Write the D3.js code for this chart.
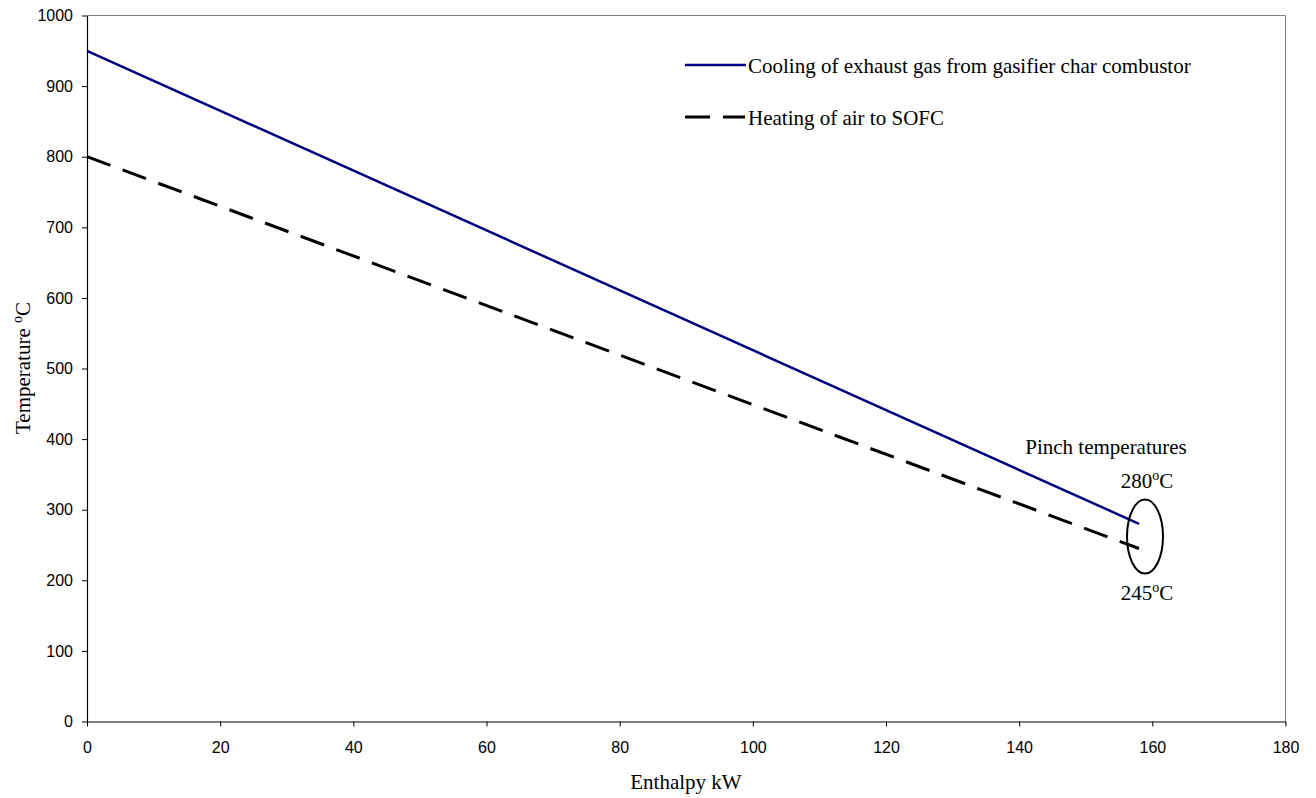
<!DOCTYPE html>
<html>
<head>
<meta charset="utf-8">
<script src="https://cdn.jsdelivr.net/npm/d3@7"></script>
<style>
  body { margin: 0; background: #fff; }
  .tick text { font-family: "Liberation Sans", Arial, sans-serif; font-size: 16px; fill: #000; }
  .serif { font-family: "Liberation Serif", "Times New Roman", serif; fill: #000; }
</style>
</head>
<body>
<svg id="grafiek" width="1316" height="798"></svg>
<script>
// data
const enthalpie = [0, 158];
const koelingTemp = [950, 280];   // Cooling of exhaust gas from gasifier char combustor
const verwarmingTemp = [800, 245]; // Heating of air to SOFC
const xTicks = [0, 20, 40, 60, 80, 100, 120, 140, 160, 180];
const yTicks = [0, 100, 200, 300, 400, 500, 600, 700, 800, 900, 1000];
const pinch = { x: 158.9, y: 262, boven: "280", onder: "245" };

const svg = d3.select('#grafiek');
const links = 87, rechts = 1285.5, boven = 15.5, onder = 721.5;

// schalen
const x = d3.scaleLinear().domain([0, 180]).range([links, rechts]);
const y = d3.scaleLinear().domain([0, 1000]).range([onder, boven]);

// grijze rand boven en rechts
svg.append('path')
    .attr('d', `M${links},${boven}H${rechts}V${onder}`)
    .attr('fill', 'none')
    .attr('stroke', '#808080')
    .attr('stroke-width', 1);

// assen
const xAs = svg.append('g')
    .attr('transform', `translate(0,${onder})`)
    .call(d3.axisBottom(x).tickValues(xTicks).tickFormat(d3.format('d'))
        .tickSize(5).tickPadding(15).tickSizeOuter(0));
const yAs = svg.append('g')
    .attr('transform', `translate(${links},0)`)
    .call(d3.axisLeft(y).tickValues(yTicks).tickFormat(d3.format('d'))
        .tickSize(5).tickPadding(9).tickSizeOuter(0));
[xAs, yAs].forEach(function (g) {
    g.select('.domain').attr('stroke', '#000').attr('stroke-width', 1.2);
    g.selectAll('.tick line').attr('stroke', '#000');
});

// lijnen
const lijn = d3.line()
    .x(function (d) { return x(d[0]); })
    .y(function (d) { return y(d[1]); });

svg.append('path')
    .datum(d3.zip(enthalpie, koelingTemp))
    .attr('d', lijn)
    .attr('fill', 'none')
    .attr('stroke', '#000080')
    .attr('stroke-width', 2.5);

svg.append('path')
    .datum(d3.zip(enthalpie, verwarmingTemp))
    .attr('d', lijn)
    .attr('fill', 'none')
    .attr('stroke', '#000')
    .attr('stroke-width', 3)
    .attr('stroke-dasharray', '25,13');

// legenda
svg.append('line').attr('x1', 685).attr('x2', 746).attr('y1', 65).attr('y2', 65)
    .attr('stroke', '#000080').attr('stroke-width', 2.5);
svg.append('text').attr('class', 'serif').attr('x', 748).attr('y', 73).attr('font-size', 21)
    .text('Cooling of exhaust gas from gasifier char combustor');
svg.append('line').attr('x1', 685).attr('x2', 745).attr('y1', 117).attr('y2', 117)
    .attr('stroke', '#000').attr('stroke-width', 3).attr('stroke-dasharray', '25,13');
svg.append('text').attr('class', 'serif').attr('x', 748).attr('y', 125).attr('font-size', 21)
    .text('Heating of air to SOFC');

// pinch ellips en teksten
svg.append('ellipse')
    .attr('cx', x(pinch.x)).attr('cy', y(pinch.y))
    .attr('rx', 18).attr('ry', 37)
    .attr('fill', 'none').attr('stroke', '#000').attr('stroke-width', 2);

svg.append('text').attr('class', 'serif').attr('x', 1106).attr('y', 454)
    .attr('text-anchor', 'middle').attr('font-size', 21).text('Pinch temperatures');

function graden(tx, ty, waarde) {
    const t = svg.append('text').attr('class', 'serif').attr('x', tx).attr('y', ty)
        .attr('text-anchor', 'middle').attr('font-size', 21);
    t.append('tspan').text(waarde);
    t.append('tspan').attr('dy', -8).attr('font-size', 14).text('o');
    t.append('tspan').attr('dy', 8).text('C');
}
graden(1147, 488, pinch.boven);
graden(1147, 600, pinch.onder);

// astitels
svg.append('text').attr('class', 'serif').attr('x', 686).attr('y', 789)
    .attr('text-anchor', 'middle').attr('font-size', 21).text('Enthalpy kW');

const yTitel = svg.append('text').attr('class', 'serif')
    .attr('transform', 'translate(30,368) rotate(-90)')
    .attr('text-anchor', 'middle').attr('font-size', 21);
yTitel.append('tspan').text('Temperature ');
yTitel.append('tspan').attr('dy', -8).attr('font-size', 14).text('o');
yTitel.append('tspan').attr('dy', 8).text('C');
</script>
</body>
</html>
